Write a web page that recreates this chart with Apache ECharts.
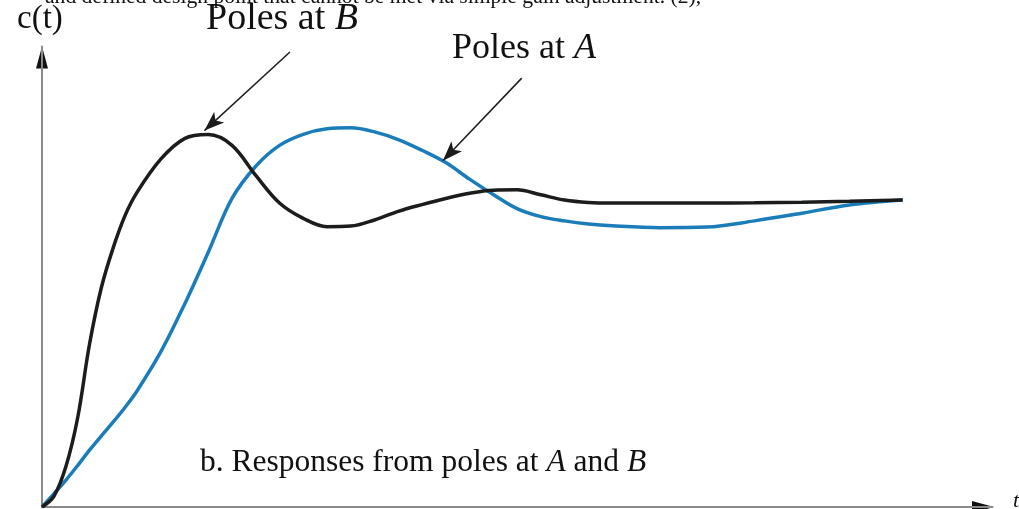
<!DOCTYPE html>
<html>
<head>
<meta charset="utf-8">
<script src="https://cdn.jsdelivr.net/npm/echarts@6/dist/echarts.min.js"></script>
<style>
  html, body { margin: 0; padding: 0; background: #fff; }
  #chart { width: 1019px; height: 509px; }
</style>
</head>
<body>
<div id="chart"></div>
<script>
// step responses (final value 1)
const tValues = [
  0, 0.125, 0.25, 0.375, 0.5, 0.625, 0.75, 0.875, 1, 1.25, 1.5, 1.75, 2, 2.25, 2.5, 2.75, 3, 3.25, 3.5, 3.75,
  4, 4.25, 4.5, 4.75, 5, 5.25, 5.5, 5.75, 6, 6.5, 7, 7.5, 8, 8.5, 9.06
];
const polesB = [
  0, 0.035, 0.13, 0.29, 0.53, 0.715, 0.845, 0.95, 1.025, 1.133, 1.2, 1.213, 1.178, 1.08, 0.99, 0.94, 0.913, 0.915, 0.935, 0.963,
  0.985, 1.005, 1.022, 1.032, 1.033, 1.017, 1.0, 0.992, 0.99, 0.99, 0.99, 0.991, 0.993, 0.996, 1.0
];
const polesA = [
  0, 0.043, 0.087, 0.135, 0.185, 0.232, 0.277, 0.325, 0.378, 0.505, 0.66, 0.83, 1.005, 1.11, 1.178, 1.214, 1.232, 1.235, 1.222, 1.197,
  1.162, 1.122, 1.068, 1.018, 0.972, 0.946, 0.932, 0.922, 0.916, 0.91, 0.912, 0.932, 0.957, 0.984, 1.0
];
// annotation arrows: [tail, tip] in data space
const arrowB = [[2.61, 1.482], [1.71, 1.226]];
const arrowA = [[5.05, 1.397], [4.22, 1.128]];

const serif = "'Liberation Serif', 'DejaVu Serif', serif";
let chart = echarts.init(document.getElementById('chart'));

function pairs(ys) {
  return tValues.map((t, i) => [t, ys[i]]);
}
function arrowLine(pair) {
  return [[{ coord: pair[0] }, { coord: pair[1] }]];
}

chart.setOption({
  animation: false,
  backgroundColor: '#fff',
  grid: { left: 42, right: 27, top: 46.5, bottom: 2 },
  xAxis: {
    type: 'value', min: 0, max: 10,
    axisLine: { lineStyle: { color: '#8a8a8a', width: 2 } },
    axisTick: { show: false }, axisLabel: { show: false }, splitLine: { show: false }
  },
  yAxis: {
    type: 'value', min: 0, max: 1.5,
    axisLine: { show: true, lineStyle: { color: '#8a8a8a', width: 2 } },
    axisTick: { show: false }, axisLabel: { show: false }, splitLine: { show: false }
  },
  series: [
    {
      name: 'Poles at A', type: 'line', data: pairs(polesA), smooth: 0.35, showSymbol: false,
      lineStyle: { color: '#1a7dba', width: 3.5 },
      markLine: {
        silent: true, symbol: ['none', 'arrow'], symbolSize: [11, 20],
        label: { show: false },
        lineStyle: { color: '#1c1c1c', width: 1.5, type: 'solid' },
        data: arrowLine(arrowA)
      }
    },
    {
      name: 'Poles at B', type: 'line', data: pairs(polesB), smooth: 0.35, showSymbol: false,
      lineStyle: { color: '#1c1c1c', width: 3.5 },
      markLine: {
        silent: true, symbol: ['none', 'arrow'], symbolSize: [11, 20],
        label: { show: false },
        lineStyle: { color: '#1c1c1c', width: 1.5, type: 'solid' },
        data: arrowLine(arrowB)
      }
    }
  ]
});

// axis arrowheads and the texts of the figure
let org = chart.convertToPixel({ gridIndex: 0 }, [0, 0]);
let xEnd = chart.convertToPixel({ gridIndex: 0 }, [10, 0]);
let yEnd = chart.convertToPixel({ gridIndex: 0 }, [0, 1.5]);

chart.setOption({
  graphic: [
    { type: 'polygon', shape: { points: [[xEnd[0] + 2, org[1]], [xEnd[0] - 20, org[1] - 6], [xEnd[0] - 20, org[1] + 6]] },
      style: { fill: '#111' } },
    { type: 'polygon', shape: { points: [[org[0], yEnd[1]], [org[0] - 6, yEnd[1] + 22], [org[0] + 6, yEnd[1] + 22]] },
      style: { fill: '#111' } },
    { type: 'text', left: 45, top: -14,
      style: { text: 'and defined design point that cannot be met via simple gain adjustment. (2),',
        font: '21.6px ' + serif, fill: '#111' } },
    { type: 'text', left: 17, top: 3,
      style: { text: 'c(t)', font: '33px ' + serif, fill: '#111' } },
    { type: 'text', left: 206, top: 0,
      style: { text: '{n|Poles at }{i|B}', fill: '#111',
        rich: { n: { font: '38px ' + serif }, i: { font: 'italic 38px ' + serif } } } },
    { type: 'text', left: 452, top: 31,
      style: { text: '{n|Poles at }{i|A}', fill: '#111',
        rich: { n: { font: '36px ' + serif }, i: { font: 'italic 36px ' + serif } } } },
    { type: 'text', left: 200, top: 447,
      style: { text: '{n|b. Responses from poles at }{i|A}{n| and }{i|B}', fill: '#111',
        rich: { n: { font: '31.5px ' + serif }, i: { font: 'italic 31.5px ' + serif } } } },
    { type: 'text', left: 1013, top: 490,
      style: { text: 't', font: 'italic 22px ' + serif, fill: '#111' } }
  ]
});
</script>
</body>
</html>
